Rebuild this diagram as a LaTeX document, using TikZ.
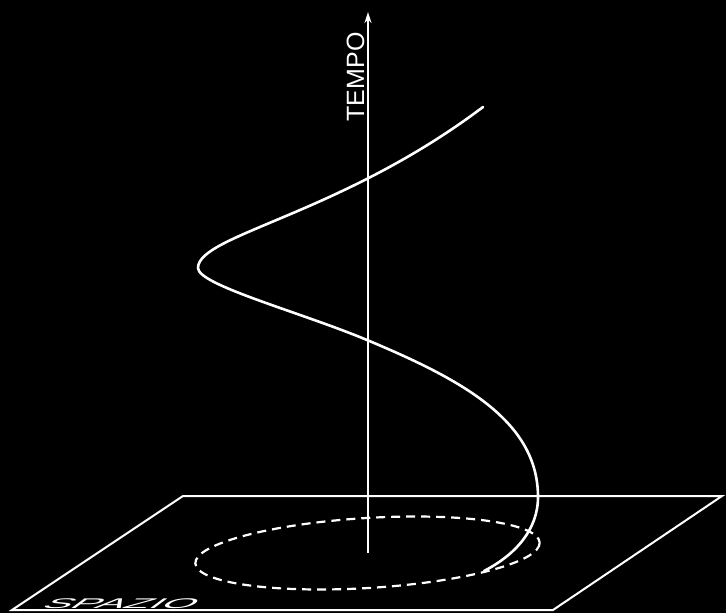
\documentclass[tikz,border=0pt]{standalone}
\usepackage{fontspec}
\setmainfont{Liberation Sans}
\usepackage{pdfrender}
\usetikzlibrary{arrows.meta}
\begin{document}
\begin{tikzpicture}[x=1pt,y=-1pt,
  line/.style={draw=white,line width=2pt},
  helix/.style={draw=white,line width=2.6pt},
  orbit/.style={draw=white,line width=2.2pt,dash pattern=on 9pt off 6pt},
  lbl/.style={text=white,inner sep=0pt}]
\fill[black] (0,0) rectangle (726,613);
\useasboundingbox (0,0) rectangle (726,613);
% plane
\coordinate (p1) at (12,610);
\coordinate (p2) at (183,496);
\coordinate (p3) at (722,496);
\coordinate (p4) at (553,610);
\draw[line] (p1) -- (p2) -- (p3) -- (p4) -- cycle;
% dashed orbit
\draw[orbit] (367.5,553) ellipse [x radius=172.5, y radius=35, rotate=3.5];
% time axis
\coordinate (axbot) at (368,553);
\coordinate (axtop) at (368,12);
\draw[line,-{Stealth[length=11pt,width=7pt]}] (axbot) -- (axtop);
\node[lbl,rotate=90,anchor=base,font=\fontsize{25}{25}\selectfont] (tempo) at (364,77) {TEMPO};
% helix
\coordinate (h0) at (483,107);
\coordinate (h1) at (198,268);
\coordinate (h2) at (367,340);
\coordinate (h3) at (538,497);
\coordinate (h4) at (484,571);
\draw[helix,line cap=round]
  (h0) .. controls (340,215) and (198,235) .. (h1)
       .. controls (198,285) and (300,312) .. (h2)
       .. controls (460,379) and (538,420) .. (h3)
       .. controls (538,530) and (515,555) .. (h4);
% label on plane
\node[lbl,xscale=3,xslant=0.45,font=\fontsize{14}{14}\selectfont] (spazio) at (122,604)
  {\textpdfrender{TextRenderingMode=1,LineWidth=0.5pt}{SPAZIO}};
\end{tikzpicture}
\end{document}
